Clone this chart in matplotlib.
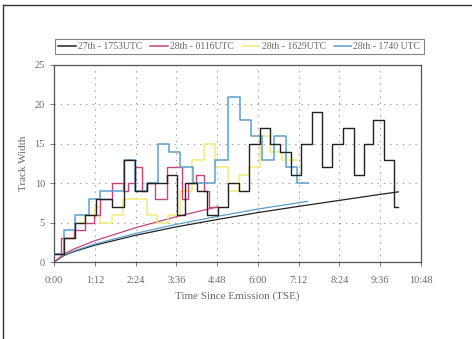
import matplotlib
matplotlib.use("Agg")
import matplotlib.pyplot as plt
from matplotlib.lines import Line2D

plt.rcParams['font.family'] = ['Liberation Serif', 'DejaVu Serif']

# Data (time since emission in minutes, track width)
black_t = [0, 18, 37, 55, 75, 102, 124, 143, 164, 199, 217, 232, 252, 271, 290, 308, 326,
           345, 364, 382, 399, 418, 437, 455, 473, 491, 510, 529, 547, 564, 582, 600, 608]
black_v = [1, 3, 5, 6, 8, 7, 13, 9, 10, 11, 6, 10, 9, 6, 7, 10, 9,
           15, 17, 15, 14, 11, 15, 19, 12, 15, 17, 11, 15, 18, 13, 7, 7]

pink_t = [0, 12, 35, 55, 71, 81, 102, 122, 131, 143, 155, 164, 178, 199, 226, 237, 251, 265, 273, 289]
pink_v = [1, 3, 4, 5, 6, 8, 10, 9, 10, 12, 9, 10, 8, 12, 8, 10, 11, 9, 7, 7]

yellow_t = [0, 18, 37, 55, 72, 81, 102, 122, 164, 181, 202, 223, 243, 264, 284, 308, 326,
            345, 364, 382, 402, 429]
yellow_v = [1, 3, 5, 6, 7, 5, 6, 8, 6, 5, 6, 9, 13, 15, 12, 9, 11,
            12, 16, 14, 13, 13]

blue_t = [0, 18, 37, 61, 81, 124, 143, 164, 183, 203, 223, 245, 285, 308, 328, 348, 367,
          388, 409, 429, 448]
blue_v = [1, 4, 6, 8, 9, 13, 9, 10, 15, 14, 12, 10, 13, 21, 18, 16, 13,
          16, 12, 10, 10]

# fitted curves
black_fit_t = [0, 18, 36, 72, 144, 216, 288, 360, 432, 504, 576, 608]
black_fit_v = [0, 0.84, 1.34, 2.13, 3.39, 4.46, 5.39, 6.27, 7.06, 7.82, 8.58, 8.9]
blue_fit_t = [0, 18, 36, 72, 144, 216, 288, 360, 448]
blue_fit_v = [0, 0.9, 1.43, 2.28, 3.63, 4.78, 5.78, 6.72, 7.7]
pink_fit_t = [0, 18, 36, 72, 144, 216, 289]
pink_fit_v = [0, 1.04, 1.68, 2.7, 4.35, 5.75, 7.0]

xticks = [0, 72, 144, 216, 288, 360, 432, 504, 576, 648]
xlabels = ["0:00", "1:12", "2:24", "3:36", "4:48", "6:00", "7:12", "8:24", "9:36", "10:48"]
yticks = [0, 5, 10, 15, 20, 25]

c_black = "#222222"
c_pink = "#c8447a"
c_yellow = "#f2ec78"
c_blue = "#5b9fcf"
txt = "#6a6a6a"

fig = plt.figure(figsize=(4.72, 3.39), dpi=100)
ax = fig.add_axes([0.1144, 0.2271, 0.7775, 0.5812])

ax.plot(black_fit_t, black_fit_v, color=c_black, lw=0.9)
ax.plot(blue_fit_t, blue_fit_v, color=c_blue, lw=0.9)
ax.plot(pink_fit_t, pink_fit_v, color=c_pink, lw=0.9)

ax.step(yellow_t, yellow_v, where='post', color=c_yellow, lw=1.1)
ax.step(pink_t, pink_v, where='post', color=c_pink, lw=1.0)
ax.step(blue_t, blue_v, where='post', color=c_blue, lw=1.1)
ax.step(black_t, black_v, where='post', color=c_black, lw=1.0)

ax.set_xlim(0, 648)
ax.set_ylim(0, 25)
ax.set_xticks(xticks)
ax.set_xticklabels(xlabels)
ax.set_yticks(yticks)
ax.grid(True, color="#999999", linestyle=(0, (1.2, 4.5)), linewidth=0.8)
ax.tick_params(labelsize=7.5, labelcolor=txt, color="#777777", length=3, width=0.7)
ax.tick_params(axis='x', pad=7)
for s in ax.spines.values():
    s.set_color("#555555")
    s.set_linewidth(0.9)

ax.set_xlabel("Time Since Emission (TSE)", fontsize=8, color=txt, labelpad=5)
ax.set_ylabel("Track Width", fontsize=8, color=txt, labelpad=5)

handles = [Line2D([], [], color=c_black, lw=1.1),
           Line2D([], [], color=c_pink, lw=1.1),
           Line2D([], [], color=c_yellow, lw=1.1),
           Line2D([], [], color=c_blue, lw=1.1)]
labels = ["27th - 1753UTC", "28th - 0116UTC", "28th - 1629UTC", "28th - 1740 UTC"]
leg = fig.legend(handles, labels, loc='center', bbox_to_anchor=(0.507, 0.863), ncol=4,
                 fontsize=7, frameon=True, fancybox=False, handlelength=1.8,
                 handletextpad=0.25, columnspacing=0.8, borderpad=0.35)
leg.get_frame().set_edgecolor("#666666")
leg.get_frame().set_linewidth(0.8)
for t in leg.get_texts():
    t.set_color(txt)

# page frame (top and left edges)
fig.add_artist(Line2D([0.006, 1.0], [0.985, 0.985], color="#333333", lw=1.0))
fig.add_artist(Line2D([0.006, 0.006], [0.0, 0.985], color="#333333", lw=1.0))

fig.savefig("out.png", dpi=100)
